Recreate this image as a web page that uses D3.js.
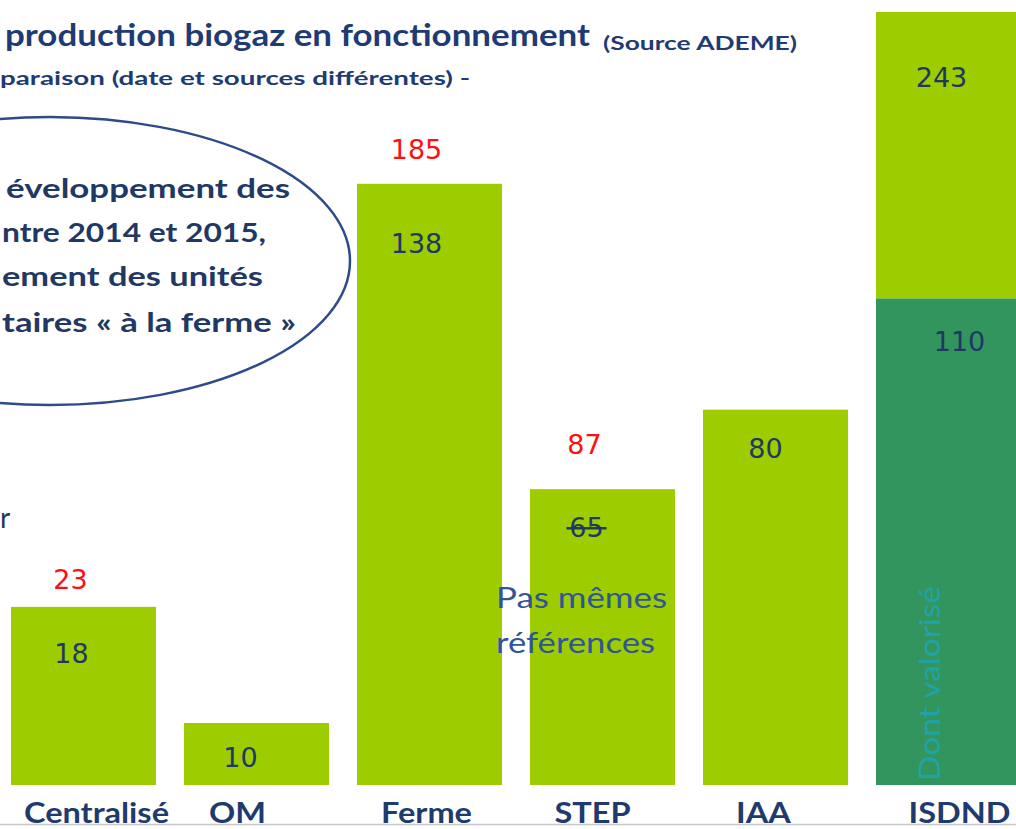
<!DOCTYPE html>
<html>
<head>
<meta charset="utf-8">
<script src="https://cdn.jsdelivr.net/npm/d3@7"></script>
<style>
  body { margin: 0; background: #fff; }
  svg { display: block; }
</style>
</head>
<body>
<div id="chart"></div>
<script>
// categories and values (bar heights don't follow labels in the source slide)
var categories = ["Centralisé", "OM", "Ferme", "STEP", "IAA", "ISDND"];
var baseHeights = [56, 19.5, 189, 93, 118, 153];   // lower part ("dont valorisé" for ISDND)
var upperHeights = [0, 0, 0, 0, 0, 90];             // rest of ISDND bar
var innerLabels = ["18", "10", "138", "65", "80", "110"];
var newLabels = ["23", "", "185", "87", "", ""];    // red numbers above bars
var totalLabels = ["", "", "", "", "", "243"];
var baseColors = ["#9dcc00", "#9dcc00", "#9dcc00", "#9dcc00", "#9dcc00", "#33955e"];

var width = 1016, height = 829;
var baseline = 785;

var svg = d3.select("#chart")
    .append("svg")
    .attr("width", width)
    .attr("height", height);

var table = categories.map(function (c, i) {
    return {cat: c, base: baseHeights[i], upper: upperHeights[i]};
});
var stack = d3.stack().keys(["base", "upper"])(table);

var x = d3.scaleBand()
    .domain(categories)
    .range([-3, 1035])
    .paddingInner(28 / 173)
    .paddingOuter(14 / 173);

var y = d3.scaleLinear()
    .domain([0, 243])
    .range([baseline, 12]);

// hand placement tweaks of the texts (pixels), like on the slide
var nudge = {
    inner: [[-12, 56], [-16, 44], [-13, 69], [-16, 48], [-10, 48], [11, 53]],
    red: [[-13, -18], [0, 0], [-13, -25], [-18, -35]],
    cat: [13, -19, -3, -10, -12, 11]
};
function cx(c) { return x(c) + x.bandwidth() / 2; }

// bars
svg.append("g").selectAll("rect")
    .data(stack[0])
    .join("rect")
    .attr("x", function (d) { return x(d.data.cat); })
    .attr("y", function (d) { return y(d[1]); })
    .attr("width", x.bandwidth())
    .attr("height", function (d) { return y(d[0]) - y(d[1]); })
    .attr("fill", function (d, i) { return baseColors[i]; });

svg.append("g").selectAll("rect")
    .data(stack[1].filter(function (d) { return d[1] > d[0]; }))
    .join("rect")
    .attr("x", function (d) { return x(d.data.cat); })
    .attr("y", function (d) { return y(d[1]); })
    .attr("width", x.bandwidth())
    .attr("height", function (d) { return y(d[0]) - y(d[1]); })
    .attr("fill", "#9dcc00");

// "Dont valorisé" rotated in ISDND
svg.append("text")
    .attr("transform", "translate(" + (x("ISDND") + 64) + "," + (baseline - 4) + ") rotate(-90)")
    .attr("font-family", "Lato, sans-serif")
    .attr("font-size", 28)
    .attr("fill", "#1fa3aa")
    .attr("textLength", 195)
    .attr("lengthAdjust", "spacingAndGlyphs")
    .text("Dont valorisé");

// numbers inside bars
var numFont = "'DejaVu Sans', sans-serif";
svg.append("g").selectAll("text")
    .data(stack[0])
    .join("text")
    .attr("x", function (d, i) { return cx(d.data.cat) + nudge.inner[i][0]; })
    .attr("y", function (d, i) { return y(d[1]) + nudge.inner[i][1]; })
    .attr("text-anchor", "middle")
    .attr("font-family", numFont)
    .attr("font-size", 27)
    .attr("fill", "#1f3864")
    .text(function (d, i) { return innerLabels[i]; });

// strike on 65 (STEP)
svg.append("line")
    .attr("x1", cx("STEP") - 16 - 20)
    .attr("x2", cx("STEP") - 16 + 20)
    .attr("y1", y(baseHeights[3]) + 48 - 9)
    .attr("y2", y(baseHeights[3]) + 48 - 9)
    .attr("stroke", "#1f3864")
    .attr("stroke-width", 2.5);

// ISDND total
svg.append("g").selectAll("text")
    .data(stack[1].filter(function (d, i) { return totalLabels[i] !== ""; }))
    .join("text")
    .attr("x", function (d) { return cx(d.data.cat) - 7; })
    .attr("y", function (d) { return y(d[1]) + 75; })
    .attr("text-anchor", "middle")
    .attr("font-family", numFont)
    .attr("font-size", 27)
    .attr("fill", "#1f3864")
    .text(function (d) { return totalLabels[categories.indexOf(d.data.cat)]; });

// red numbers above
svg.append("g").selectAll("text")
    .data(stack[0].filter(function (d, i) { return newLabels[i] !== ""; }))
    .join("text")
    .attr("x", function (d) {
        var i = categories.indexOf(d.data.cat);
        return cx(d.data.cat) + nudge.red[i][0];
    })
    .attr("y", function (d) {
        var i = categories.indexOf(d.data.cat);
        return y(d[1]) + nudge.red[i][1];
    })
    .attr("text-anchor", "middle")
    .attr("font-family", numFont)
    .attr("font-size", 27)
    .attr("fill", "#ff1010")
    .text(function (d) { return newLabels[categories.indexOf(d.data.cat)]; });

// bottom line
svg.append("line")
    .attr("x1", 0).attr("x2", width)
    .attr("y1", 824.5).attr("y2", 824.5)
    .attr("stroke", "#c8c8c8")
    .attr("stroke-width", 1.5);

// category labels, a bit widened like the slide font
svg.append("g").selectAll("text")
    .data(categories)
    .join("text")
    .attr("x", function (d, i) { return cx(d) + nudge.cat[i]; })
    .attr("y", 823)
    .attr("text-anchor", "middle")
    .attr("font-family", "Lato, sans-serif")
    .attr("font-weight", "bold")
    .attr("font-size", 29)
    .attr("fill", "#1f3b6e")
    .text(function (d) { return d; })
    .each(function () {
        var w = this.getComputedTextLength();
        d3.select(this).attr("textLength", w * 1.12).attr("lengthAdjust", "spacingAndGlyphs");
    });

// "Pas mêmes références"
var note = svg.append("text")
    .attr("font-family", "Lato, sans-serif")
    .attr("font-size", 29)
    .attr("fill", "#2f5597");
note.append("tspan").attr("x", 496).attr("y", 608)
    .attr("textLength", 171).attr("lengthAdjust", "spacingAndGlyphs").text("Pas mêmes");
note.append("tspan").attr("x", 496).attr("y", 653)
    .attr("textLength", 159).attr("lengthAdjust", "spacingAndGlyphs").text("références");

// titles
svg.append("text")
    .attr("x", 5).attr("y", 46)
    .attr("font-family", "Lato, sans-serif")
    .attr("font-weight", "bold")
    .attr("font-size", 31)
    .attr("fill", "#1f3b73")
    .attr("textLength", 585)
    .attr("lengthAdjust", "spacingAndGlyphs")
    .text("production biogaz en fonctionnement");

svg.append("text")
    .attr("x", 603).attr("y", 50)
    .attr("font-family", "Lato, sans-serif")
    .attr("font-weight", "bold")
    .attr("font-size", 19)
    .attr("fill", "#1f3b73")
    .attr("textLength", 194)
    .attr("lengthAdjust", "spacingAndGlyphs")
    .text("(Source ADEME)");

svg.append("text")
    .attr("x", 0).attr("y", 85)
    .attr("font-family", "Lato, sans-serif")
    .attr("font-weight", "bold")
    .attr("font-size", 19)
    .attr("fill", "#1f3b73")
    .attr("textLength", 470)
    .attr("lengthAdjust", "spacingAndGlyphs")
    .text("paraison (date et sources différentes) -");

// ellipse annotation
svg.append("ellipse")
    .attr("cx", 50).attr("cy", 261)
    .attr("rx", 300).attr("ry", 144)
    .attr("fill", "none")
    .attr("stroke", "#2e4a8b")
    .attr("stroke-width", 2.5);

// only the part of the lines that the slide shows
var lines = [
    {t: "éveloppement des", x0: 6, end: 290, y: 198},
    {t: "ntre 2014 et 2015,", x0: 2, end: 266, y: 242},
    {t: "ement  des unités", x0: 2, end: 263, y: 286},
    {t: "taires « à la ferme »", x0: 2, end: 296, y: 332}
];
svg.append("g").selectAll("text")
    .data(lines)
    .join("text")
    .attr("x", function (d) { return d.x0; })
    .attr("y", function (d) { return d.y; })
    .attr("textLength", function (d) { return d.end - d.x0; })
    .attr("lengthAdjust", "spacingAndGlyphs")
    .attr("font-family", "Lato, sans-serif")
    .attr("font-weight", "bold")
    .attr("font-size", 27)
    .attr("fill", "#1f3864")
    .text(function (d) { return d.t; });

// left edge fragment
svg.append("text")
    .attr("x", 0).attr("y", 528)
    .attr("font-family", "Lato, sans-serif")
    .attr("font-size", 28)
    .attr("fill", "#1f3864")
    .text("r");
</script>
</body>
</html>
